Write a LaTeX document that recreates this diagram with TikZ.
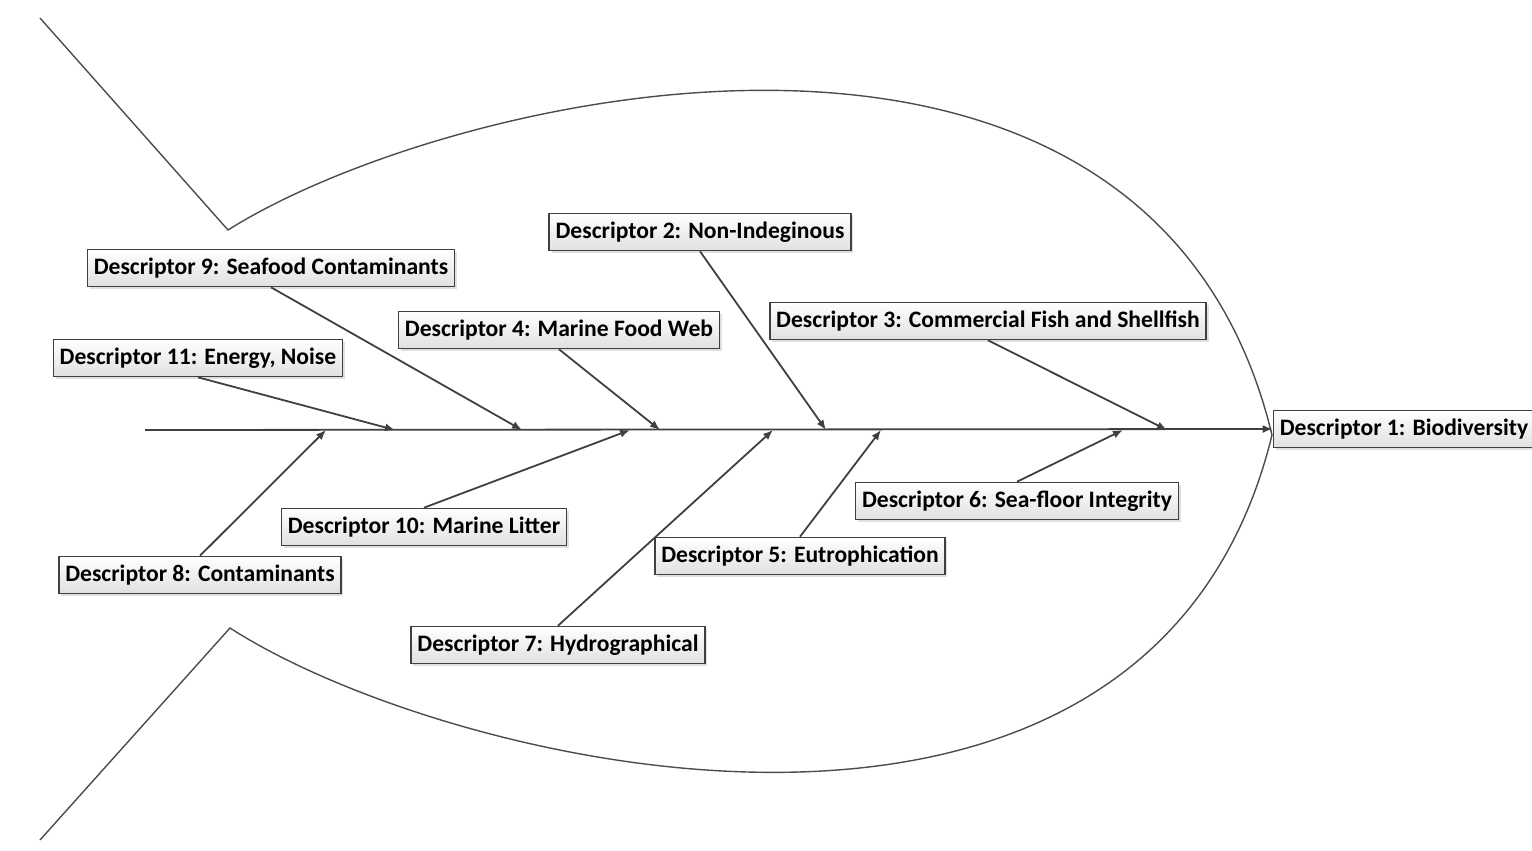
\documentclass[tikz,border=0pt]{standalone}
\usepackage{fontspec}
\setmainfont{Carlito}
\usetikzlibrary{arrows.meta,shadows}

\begin{document}
\begin{tikzpicture}[x=0.5pt,y=-0.5pt]
	\tikzstyle{desc}=[draw=black!75,line width=0.8pt,top color=white,bottom color=black!12,
	drop shadow={shadow xshift=1.2pt,shadow yshift=-1.2pt,opacity=0.25},
	inner xsep=3.2pt,minimum height=18.5pt,font=\fontsize{11.8}{13}\selectfont\bfseries]
	\tikzstyle{bone}=[draw=black!75,line width=0.9pt,-{Latex[length=5pt,width=4pt]}]
	\useasboundingbox (0,0) rectangle (1532,851);
	\draw[black!70,line width=0.7pt] (40,18) -- (228,230)
		.. controls (450,90) and (1150,-70) .. (1272,435)
		.. controls (1150,935) and (450,770) .. (230,628) -- (40,840);
	\node[desc] (d1) at (1404,429) {Descriptor 1: Biodiversity};
	\node[desc] (d2) at (700,232) {Descriptor 2: Non-Indeginous};
	\node[desc] (d3) at (988,321) {Descriptor 3: Commercial Fish and Shellfish};
	\node[desc] (d4) at (559,330) {Descriptor 4: Marine Food Web};
	\node[desc] (d5) at (800,556) {Descriptor 5: Eutrophication};
	\node[desc] (d6) at (1017,501) {Descriptor 6: Sea-floor Integrity};
	\node[desc] (d7) at (558,645) {Descriptor 7: Hydrographical};
	\node[desc] (d8) at (200,575) {Descriptor 8: Contaminants};
	\node[desc] (d9) at (271,268) {Descriptor 9: Seafood Contaminants};
	\node[desc] (d10) at (424,527) {Descriptor 10: Marine Litter};
	\node[desc] (d11) at (198,358) {Descriptor 11: Energy, Noise};
	\coordinate (tail) at (145,430);
	\coordinate (e2) at (826,430);
	\coordinate (e3) at (1167,430);
	\coordinate (e4) at (660,430);
	\coordinate (e5) at (881,430);
	\coordinate (e6) at (1123,430);
	\coordinate (e7) at (773,430);
	\coordinate (e8) at (326,430);
	\coordinate (e9) at (522,430);
	\coordinate (e10) at (630,430);
	\coordinate (e11) at (395,430);
	\draw[bone] (tail) -- (d1.west);
	\draw[bone] (d2.south) -- (e2);
	\draw[bone] (d3.south) -- (e3);
	\draw[bone] (d4.south) -- (e4);
	\draw[bone] (d9.south) -- (e9);
	\draw[bone] (d11.south) -- (e11);
	\draw[bone] (d5.north) -- (e5);
	\draw[bone] (d6.north) -- (e6);
	\draw[bone] (d7.north) -- (e7);
	\draw[bone] (d8.north) -- (e8);
	\draw[bone] (d10.north) -- (e10);
\end{tikzpicture}
\end{document}
